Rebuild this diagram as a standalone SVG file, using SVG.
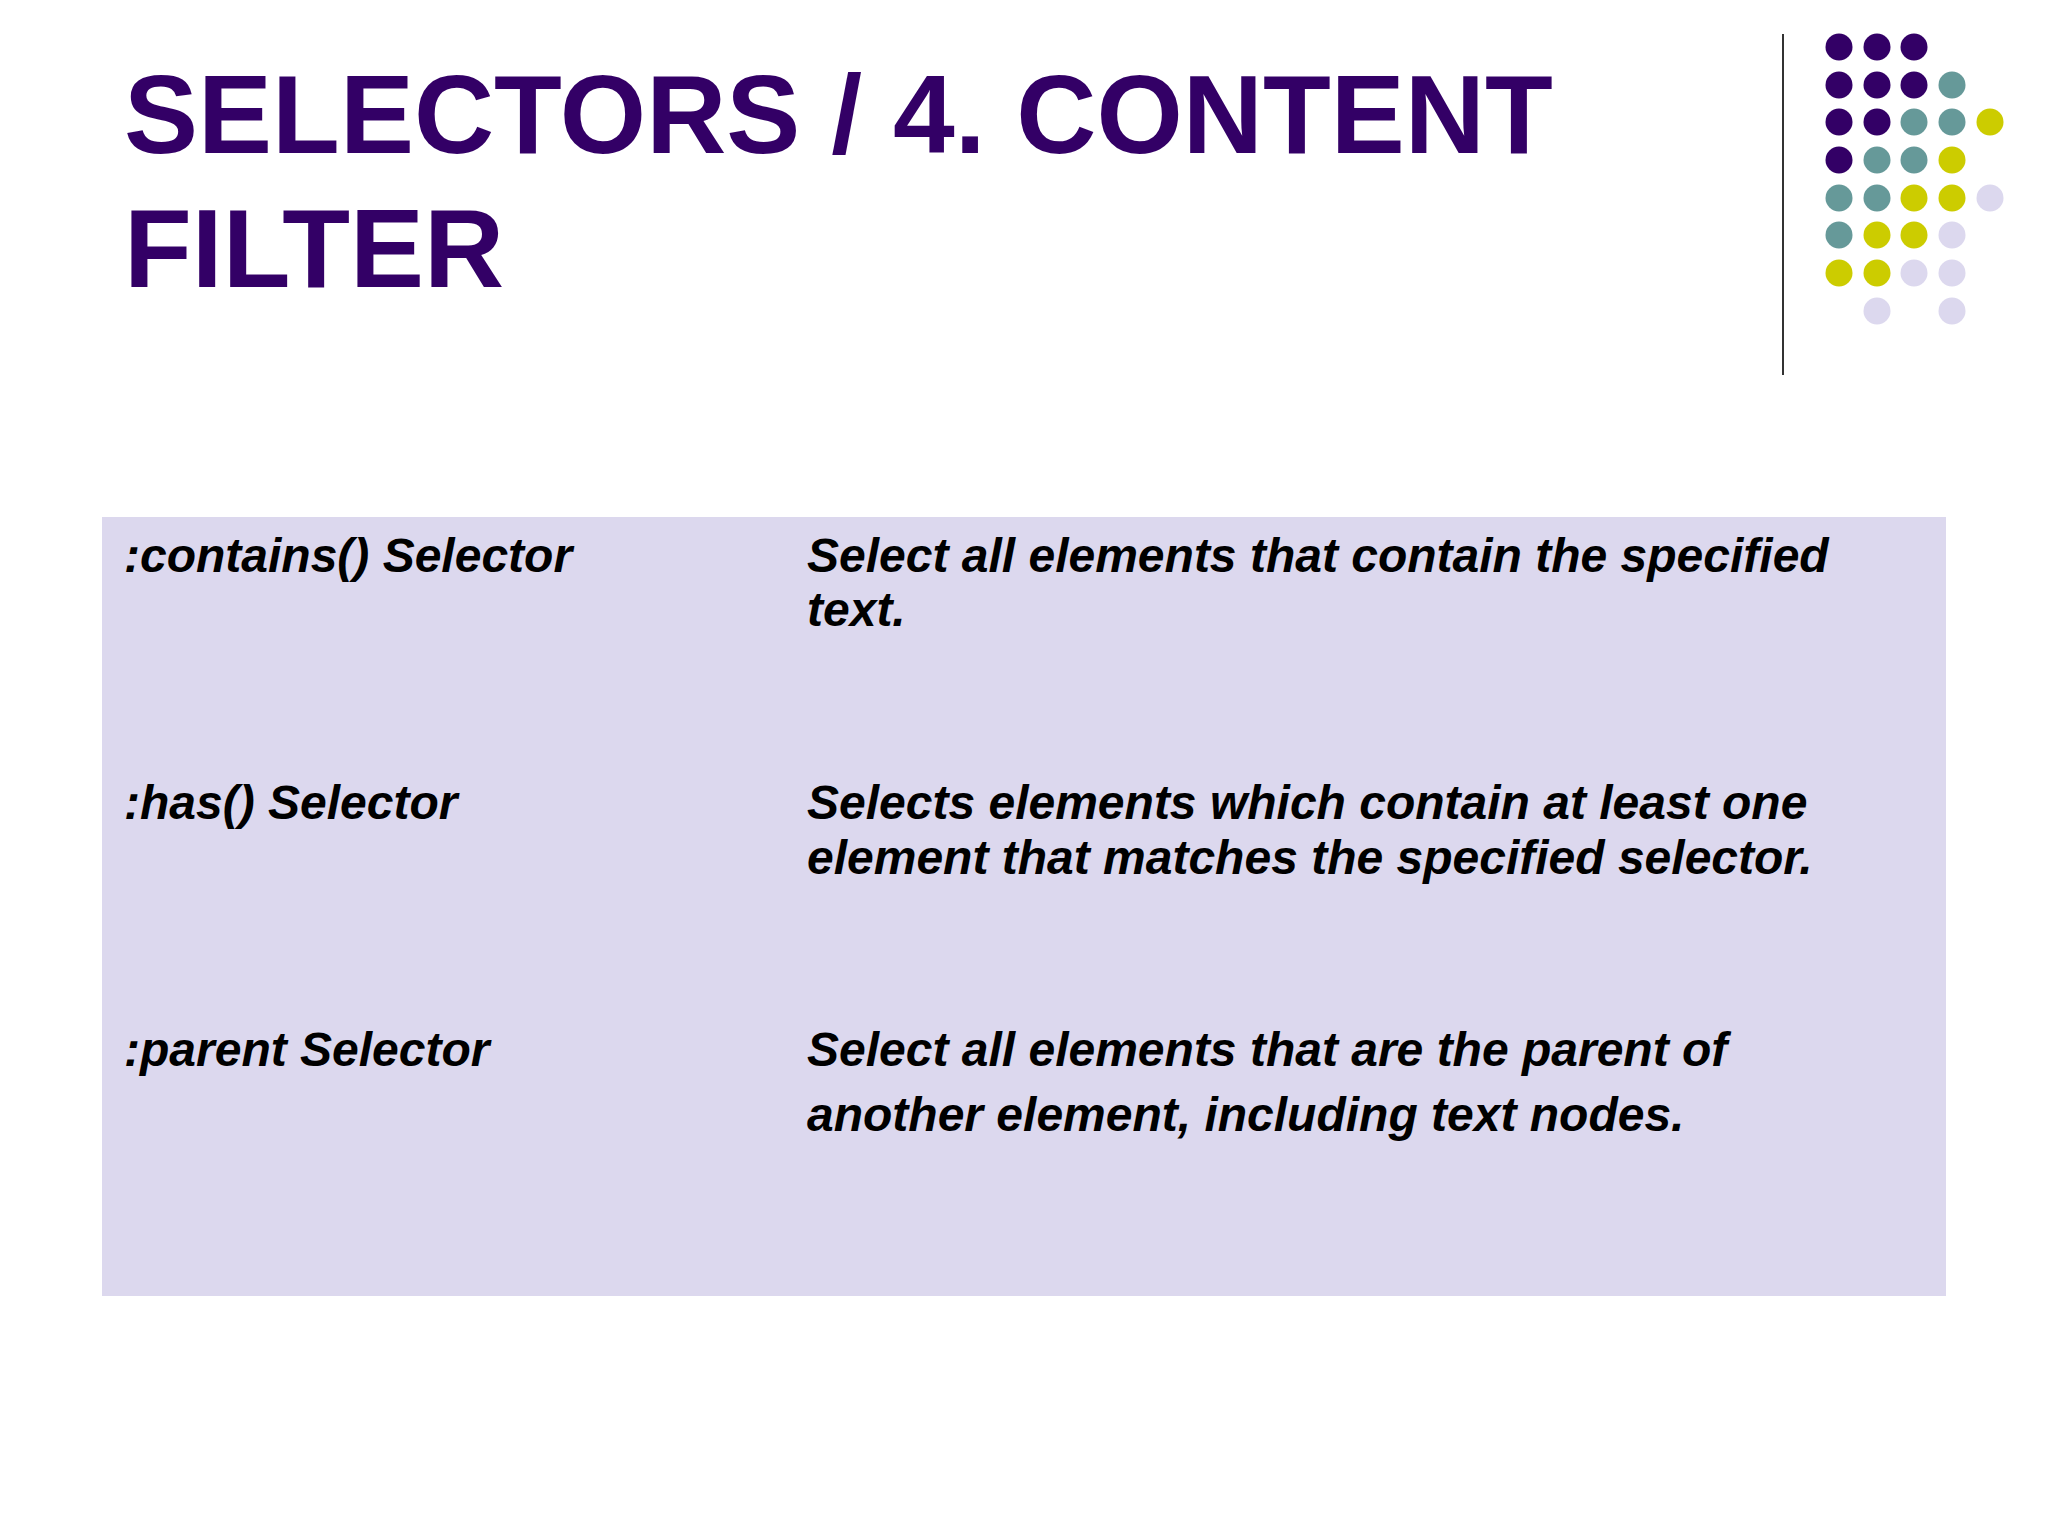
<svg xmlns="http://www.w3.org/2000/svg" width="2048" height="1536" viewBox="0 0 2048 1536">
<style>
.t{font-family:"Liberation Sans",Arial,sans-serif;font-weight:bold;fill:#330066;font-size:111px}
.b{font-family:"Liberation Sans",Arial,sans-serif;font-weight:bold;font-style:italic;fill:#000;font-size:48px}
.p{fill:#330066}.g{fill:#669999}.y{fill:#CCCC00}.l{fill:#DCD8EE}
</style>
<rect width="2048" height="1536" fill="#fff"/>
<g id="title"><text class="t" x="124" y="153">SELECTORS / 4. CONTENT</text><text class="t" x="124" y="287">FILTER</text></g>
<g id="decor">
<line x1="1783" y1="34" x2="1783" y2="375" stroke="#333" stroke-width="2"/>
<g>
<circle class="p" cx="1839" cy="47" r="13.5"/><circle class="p" cx="1877" cy="47" r="13.5"/><circle class="p" cx="1914" cy="47" r="13.5"/>
<circle class="p" cx="1839" cy="85" r="13.5"/><circle class="p" cx="1877" cy="85" r="13.5"/><circle class="p" cx="1914" cy="85" r="13.5"/><circle class="g" cx="1952" cy="85" r="13.5"/>
<circle class="p" cx="1839" cy="122" r="13.5"/><circle class="p" cx="1877" cy="122" r="13.5"/><circle class="g" cx="1914" cy="122" r="13.5"/><circle class="g" cx="1952" cy="122" r="13.5"/><circle class="y" cx="1990" cy="122" r="13.5"/>
<circle class="p" cx="1839" cy="160" r="13.5"/><circle class="g" cx="1877" cy="160" r="13.5"/><circle class="g" cx="1914" cy="160" r="13.5"/><circle class="y" cx="1952" cy="160" r="13.5"/>
<circle class="g" cx="1839" cy="198" r="13.5"/><circle class="g" cx="1877" cy="198" r="13.5"/><circle class="y" cx="1914" cy="198" r="13.5"/><circle class="y" cx="1952" cy="198" r="13.5"/><circle class="l" cx="1990" cy="198" r="13.5"/>
<circle class="g" cx="1839" cy="235" r="13.5"/><circle class="y" cx="1877" cy="235" r="13.5"/><circle class="y" cx="1914" cy="235" r="13.5"/><circle class="l" cx="1952" cy="235" r="13.5"/>
<circle class="y" cx="1839" cy="273" r="13.5"/><circle class="y" cx="1877" cy="273" r="13.5"/><circle class="l" cx="1914" cy="273" r="13.5"/><circle class="l" cx="1952" cy="273" r="13.5"/>
<circle class="l" cx="1877" cy="311" r="13.5"/><circle class="l" cx="1952" cy="311" r="13.5"/>
</g>
</g>
<g id="table">
<rect x="102" y="517" width="1844" height="779" fill="#DCD8EE"/>
<text class="b" x="124" y="572">:contains() Selector</text>
<text class="b" x="807" y="572">Select all elements that contain the specified</text>
<text class="b" x="807" y="626">text.</text>
<text class="b" x="124" y="819">:has() Selector</text>
<text class="b" x="807" y="819">Selects elements which contain at least one</text>
<text class="b" x="807" y="874">element that matches the specified selector.</text>
<text class="b" x="124" y="1066">:parent Selector</text>
<text class="b" x="807" y="1066">Select all elements that are the parent of</text>
<text class="b" x="807" y="1131">another element, including text nodes.</text>
</g>
</svg>
